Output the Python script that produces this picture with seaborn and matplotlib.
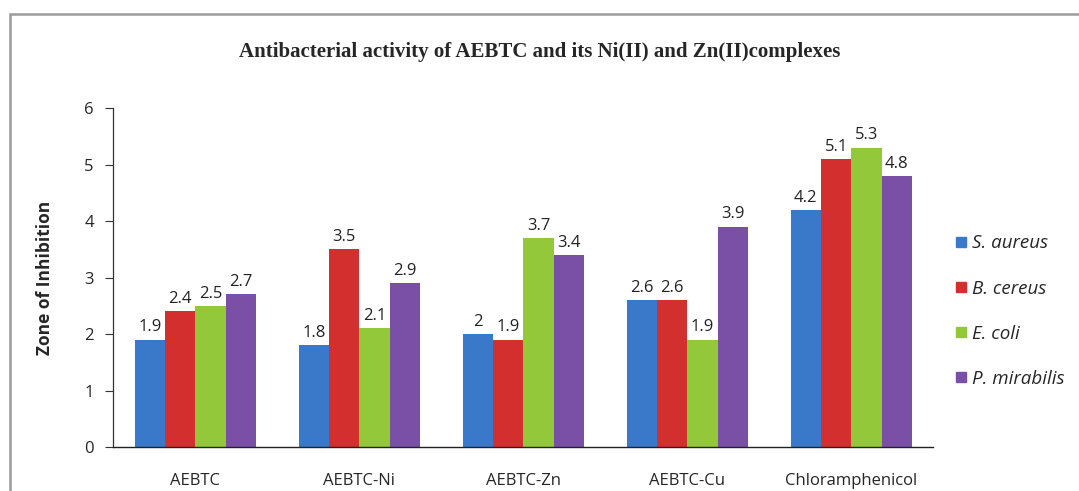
import matplotlib
matplotlib.use("Agg")
import matplotlib.pyplot as plt
import seaborn as sns
import pandas as pd
from matplotlib.patches import Rectangle
from matplotlib.lines import Line2D

categories = ["AEBTC", "AEBTC-Ni", "AEBTC-Zn", "AEBTC-Cu", "Chloramphenicol"]
series = ["S. aureus", "B. cereus", "E. coli", "P. mirabilis"]
s_aureus = [1.9, 1.8, 2.0, 2.6, 4.2]
b_cereus = [2.4, 3.5, 1.9, 2.6, 5.1]
e_coli = [2.5, 2.1, 3.7, 1.9, 5.3]
p_mirabilis = [2.7, 2.9, 3.4, 3.9, 4.8]
value_labels = {
    "S. aureus": ["1.9", "1.8", "2", "2.6", "4.2"],
    "B. cereus": ["2.4", "3.5", "1.9", "2.6", "5.1"],
    "E. coli": ["2.5", "2.1", "3.7", "1.9", "5.3"],
    "P. mirabilis": ["2.7", "2.9", "3.4", "3.9", "4.8"],
}
colors = ["#3a78c9", "#d32f2f", "#92c83a", "#7a4fa6"]

rows = []
for name, vals in zip(series, [s_aureus, b_cereus, e_coli, p_mirabilis]):
    for c, v in zip(categories, vals):
        rows.append({"Compound": c, "Organism": name, "Value": v})
df = pd.DataFrame(rows)

sns.set_theme(style="white")
plt.rcParams["font.family"] = ["Open Sans", "DejaVu Sans"]

fig = plt.figure(figsize=(10.79, 4.91), dpi=100)
ax = fig.add_axes([0.105, 0.0896, 0.76, 0.6904])

sns.barplot(data=df, x="Compound", y="Value", hue="Organism", order=categories,
            hue_order=series, palette=colors, width=0.74, ax=ax,
            edgecolor="none", saturation=1, legend=False)

for cont, name in zip(ax.containers, series):
    ax.bar_label(cont, labels=value_labels[name], padding=3, fontsize=12, color="#222222")

ax.set_ylim(0, 6)
ax.set_yticks(range(0, 7))
ax.set_xlim(-0.5, 4.5)
ax.set_xlabel("")
ax.set_ylabel("Zone of Inhibition", fontsize=12.5, fontweight="bold", labelpad=22)
ax.tick_params(axis="y", labelsize=12, length=6, direction="out", left=True, width=0.8,
               color="#333333", pad=8)
ax.tick_params(axis="x", labelsize=12, length=0, pad=19)
for s in ["top", "right"]:
    ax.spines[s].set_visible(False)
ax.spines["left"].set_color("#333333")
ax.spines["bottom"].set_color("#222222")
ax.spines["left"].set_linewidth(0.9)
ax.spines["bottom"].set_linewidth(1.0)

handles = [Line2D([0], [0], marker="s", linestyle="none", markersize=7,
                  markerfacecolor=c, markeredgecolor=c) for c in colors]
leg = fig.legend(handles, series, loc="upper left", bbox_to_anchor=(0.866, 0.557),
                 frameon=False, labelspacing=1.45, handletextpad=0.1,
                 handlelength=1.0, prop={"style": "italic", "size": 13.5})

fig.text(0.5, 0.895, "Antibacterial activity of AEBTC and its Ni(II) and Zn(II)complexes",
         ha="center", va="center", fontsize=15, fontweight="bold",
         family=["Liberation Serif", "DejaVu Serif"])

frame = Rectangle((10 / 1079, -0.05), 1.2, 1 - 14 / 491 + 0.05, transform=fig.transFigure,
                  fill=False, edgecolor="#9a9a9a", linewidth=1.8)
fig.add_artist(frame)

fig.savefig("out.png", dpi=100)
